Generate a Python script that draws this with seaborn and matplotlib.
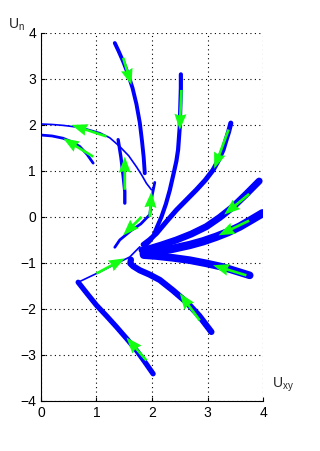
import numpy as np
import pandas as pd
import seaborn as sns
import matplotlib.pyplot as plt

# Trajectories in the (U_xy, U_n) plane
traj_x = {
    "t1": [1.33, 1.40, 1.48, 1.57, 1.65, 1.72, 1.78, 1.82, 1.85, 1.87],
    "t2": [2.52, 2.52, 2.51, 2.50, 2.47, 2.44, 2.40, 2.32, 2.25, 2.17, 2.09, 2.02, 1.95, 1.88],
    "t3": [3.42, 3.38, 3.33, 3.28, 3.20, 3.10, 2.96, 2.80, 2.62, 2.44, 2.26, 2.08, 1.95, 1.84],
    "t4": [3.93, 3.70, 3.46, 3.22, 2.98, 2.71, 2.44, 2.17, 1.98, 1.82],
    "t5": [3.99, 3.78, 3.58, 3.37, 3.16, 2.92, 2.68, 2.38, 2.08, 1.85],
    "t6": [3.76, 3.52, 3.28, 2.98, 2.68, 2.38, 2.08, 1.85],
    "t7": [3.07, 2.85, 2.62, 2.38, 2.14, 1.95, 1.78, 1.66, 1.61, 1.62],
    "t8": [2.02, 1.87, 1.72, 1.54, 1.36, 1.18, 1.00, 0.82, 0.67],
    "t8b": [0.67, 1.00, 1.30, 1.60, 1.78],
    "t9": [0.00, 0.20, 0.40, 0.60, 0.80, 1.06, 1.24, 1.42, 1.58, 1.72, 1.82, 1.90, 1.99],
    "t9b": [2.05, 2.00, 1.96, 1.80, 1.62, 1.42, 1.33],
    "t10": [0.00, 0.20, 0.40, 0.56, 0.70, 0.83, 0.94],
    "t11": [1.39, 1.44, 1.48, 1.51, 1.51],
}
traj_y = {
    "t1": [3.78, 3.60, 3.38, 3.10, 2.80, 2.45, 2.05, 1.65, 1.30, 0.95],
    "t2": [3.10, 2.80, 2.40, 1.96, 1.46, 1.22, 1.00, 0.58, 0.28, 0.00, -0.22, -0.43, -0.54, -0.62],
    "t3": [2.04, 1.85, 1.66, 1.46, 1.24, 1.02, 0.80, 0.59, 0.37, 0.15, -0.10, -0.36, -0.50, -0.60],
    "t4": [0.78, 0.50, 0.22, -0.01, -0.21, -0.37, -0.50, -0.61, -0.68, -0.72],
    "t5": [0.08, -0.07, -0.21, -0.33, -0.43, -0.53, -0.61, -0.69, -0.76, -0.80],
    "t6": [-1.27, -1.18, -1.09, -1.01, -0.94, -0.89, -0.85, -0.83],
    "t7": [-2.50, -2.15, -1.85, -1.60, -1.37, -1.25, -1.16, -1.07, -1.01, -0.93],
    "t8": [-3.41, -3.15, -2.90, -2.64, -2.39, -2.15, -1.92, -1.65, -1.42],
    "t8b": [-1.42, -1.23, -1.05, -0.87, -0.65],
    "t9": [2.02, 2.01, 1.99, 1.96, 1.92, 1.83, 1.72, 1.53, 1.33, 1.09, 0.90, 0.73, 0.59],
    "t9b": [0.75, 0.45, 0.05, -0.15, -0.30, -0.50, -0.66],
    "t10": [1.78, 1.76, 1.71, 1.63, 1.53, 1.36, 1.17],
    "t11": [1.68, 1.30, 0.90, 0.55, 0.30],
}
traj_lw = {"t1": 2.8, "t2": 3.0, "t3": 3.6, "t4": 5, "t5": 6, "t6": 5.5, "t7": 4.5,
           "t8": 3.8, "t8b": 1.2, "t9": 1.2, "t9b": 2.0, "t10": 2.0, "t11": 2.4}

# Direction arrows: tail and head
arr_x0 = [1.48, 2.53, 3.38, 3.75, 3.75, 3.70, 2.86, 1.90, 1.00, 1.18, 0.94, 1.51, 1.96, 1.81]
arr_y0 = [3.46, 2.76, 1.90, 0.50, -0.08, -1.27, -2.25, -3.12, -1.23, 1.75, 1.31, 0.59, 0.00, 0.00]
arr_x1 = [1.63, 2.50, 3.12, 3.30, 3.20, 3.10, 2.50, 1.54, 1.51, 0.55, 0.40, 1.51, 1.99, 1.48]
arr_y1 = [2.87, 1.89, 1.05, 0.05, -0.40, -1.05, -1.66, -2.62, -0.90, 2.00, 1.71, 1.31, 0.55, -0.40]

rows = []
for k in traj_x:
    for i, (xv, yv) in enumerate(zip(traj_x[k], traj_y[k])):
        rows.append({"traj": k, "i": i, "x": xv, "y": yv})
df = pd.DataFrame(rows)

sns.set_style("white")
plt.rcParams["font.family"] = ["Liberation Sans", "DejaVu Sans"]

fig = plt.figure(figsize=(3.2, 4.51), dpi=100)
ax = fig.add_axes([0.128, 0.111, 0.694, 0.816])

for k in traj_x:
    sns.lineplot(data=df[df["traj"] == k], x="x", y="y", sort=False,
                 estimator=None, color="#0000ff", linewidth=traj_lw[k],
                 solid_capstyle="round", solid_joinstyle="round", ax=ax, zorder=2)

x0 = np.array(arr_x0)
y0 = np.array(arr_y0)
ax.quiver(x0, y0, np.array(arr_x1) - x0, np.array(arr_y1) - y0,
          angles="xy", scale_units="xy", scale=1, color="#11ff11",
          width=0.012, headwidth=4.5, headlength=6, headaxislength=5.5,
          zorder=3)

ax.set_xlim(0, 4)
ax.set_ylim(-4, 4)
ax.set_xticks([0, 1, 2, 3, 4])
ax.set_yticks([-4, -3, -2, -1, 0, 1, 2, 3, 4])
ax.set_xlabel("")
ax.set_ylabel("")
ax.grid(True, color="black", linestyle=(0, (1, 3)), linewidth=0.8)
for s in ["top", "right"]:
    ax.spines[s].set_visible(False)
for s in ["left", "bottom"]:
    ax.spines[s].set_color("black")
    ax.spines[s].set_linewidth(0.8)
ax.tick_params(direction="in", length=3, labelsize=10, colors="black",
               left=True, bottom=True)

ax.text(-0.15, 1.0, r"$\mathregular{U_n}$", transform=ax.transAxes,
        fontsize=10, ha="left", va="bottom")
ax.text(1.04, 0.02, r"$\mathregular{U_{xy}}$", transform=ax.transAxes,
        fontsize=10, ha="left", va="bottom")

fig.savefig("out.png", dpi=100)
